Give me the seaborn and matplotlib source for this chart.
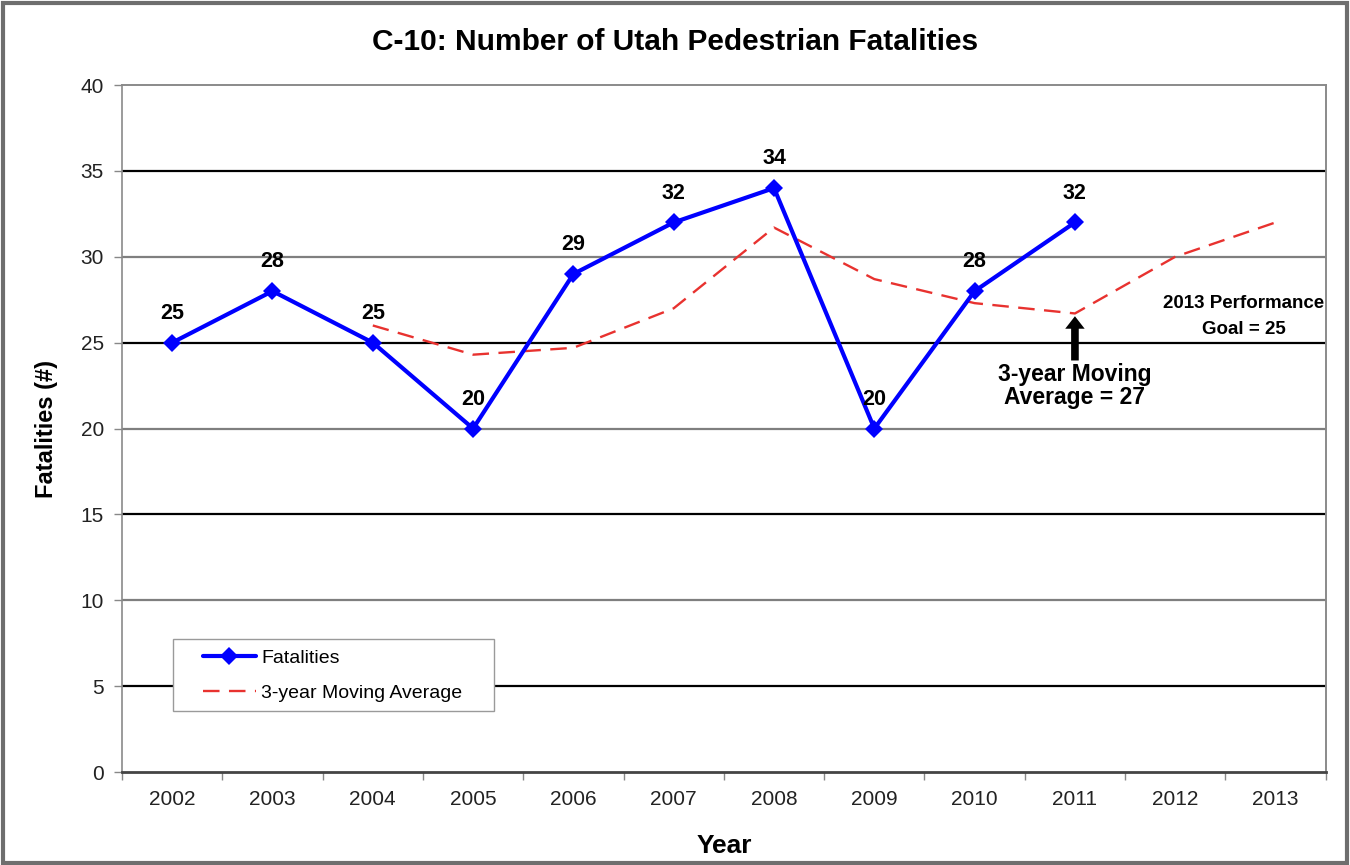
import numpy as np
import pandas as pd
import matplotlib
matplotlib.use("Agg")
import matplotlib.pyplot as plt
from matplotlib.patches import Rectangle
import seaborn as sns

years = [2002, 2003, 2004, 2005, 2006, 2007, 2008, 2009, 2010, 2011, 2012, 2013]
fatalities = [25, 28, 25, 20, 29, 32, 34, 20, 28, 32, np.nan, np.nan]
moving_avg = [np.nan, np.nan, 26, 24.3, 24.7, 27, 31.7, 28.7, 27.3, 26.7, 30, 32]

df = pd.DataFrame({"Año": years, "Fatalities": fatalities, "MovingAvg": moving_avg})

sns.set_style("white")
plt.rcParams["font.family"] = ["Liberation Sans", "DejaVu Sans"]
plt.rcParams["text.color"] = "black"
plt.rcParams["axes.labelcolor"] = "black"
plt.rcParams["xtick.labelcolor"] = "#222222"
plt.rcParams["ytick.labelcolor"] = "#222222"

fig = plt.figure(figsize=(13.5, 8.65), dpi=100)
ax = fig.add_axes([0.0904, 0.1075, 0.8916, 0.7942])

# gridlines alternate dark / grey like the source
for v in range(5, 40, 5):
    ax.axhline(v, color="black" if v % 10 else "#7f7f7f", lw=1.6, zorder=0)

sns.lineplot(data=df, x="Año", y="MovingAvg", ax=ax, color="#e8322f", lw=1.7,
             linestyle=(0, (7, 4)), label="3-year Moving Average", zorder=2)
sns.lineplot(data=df, x="Año", y="Fatalities", ax=ax, color="#0000ff", lw=3,
             marker="D", markersize=9, markeredgewidth=0, label="Fatalities", zorder=3)

for x, y in zip(years, fatalities):
    if not np.isnan(y):
        ax.annotate(f"{int(y)}", (x, y), xytext=(0, 21), textcoords="offset points",
                    ha="center", va="center", fontsize=15.5, fontweight="bold")

ax.set_xlim(2001.5, 2013.5)
ax.set_ylim(0, 40)
ax.set_yticks(range(0, 41, 5))
ax.set_xticks(years)
ax.set_xticks(np.arange(2001.5, 2014, 1), minor=True)
ax.tick_params(axis="x", which="major", length=0, labelsize=15, pad=13)
ax.tick_params(axis="x", which="minor", length=6, width=1, color="#888888", direction="out")
ax.tick_params(axis="y", length=6, width=1, color="#888888", direction="out", labelsize=15, pad=7)
ax.tick_params(bottom=True, left=True, which="both")

for s in ["top", "right"]:
    ax.spines[s].set_color("#8a8a8a")
    ax.spines[s].set_linewidth(1.4)
ax.spines["left"].set_color("#8a8a8a")
ax.spines["left"].set_linewidth(1.2)
ax.spines["bottom"].set_color("#444444")
ax.spines["bottom"].set_linewidth(2)

ax.set_xlabel("Year", fontsize=19, fontweight="bold", labelpad=18)
ax.set_ylabel("Fatalities (#)", fontsize=17, fontweight="bold", labelpad=16)
fig.text(0.5, 0.951, "C-10: Number of Utah Pedestrian Fatalities", fontsize=21.5,
         fontweight="bold", ha="center", va="center")

# legend: box drawn separately so the padding matches the Excel look
ax.add_patch(Rectangle((0.0424, 0.0888), 0.2666, 0.1048, transform=ax.transAxes,
                       facecolor="white", edgecolor="#9a9a9a", lw=1, zorder=4))
handles, labels = ax.get_legend_handles_labels()
leg = ax.legend(handles[::-1], labels[::-1], loc="center left",
                bbox_to_anchor=(0.0673, 0.1400), fontsize=14, frameon=False,
                handlelength=2.7, borderpad=0, labelspacing=0.9, borderaxespad=0,
                handletextpad=0.3)
leg.set_zorder(5)

ax.annotate("", xy=(2011, 26.7), xytext=(2011, 23.8),
            arrowprops=dict(arrowstyle="simple,head_width=1.4,head_length=0.9,tail_width=0.55",
                            color="black", lw=0))
ax.text(2011, 22.5, "3-year Moving\nAverage = 27", ha="center", va="center",
        fontsize=16.5, fontweight="bold", linespacing=1.0)
ax.text(2012.68, 26.5, "2013 Performance\nGoal = 25", ha="center", va="center",
        fontsize=13.5, fontweight="bold", linespacing=1.7)

fig.patches.append(Rectangle((0.002, 0.002), 0.996, 0.995, transform=fig.transFigure,
                             fill=False, edgecolor="#6e6e6e", lw=3))

fig.savefig("out.png", dpi=100)
